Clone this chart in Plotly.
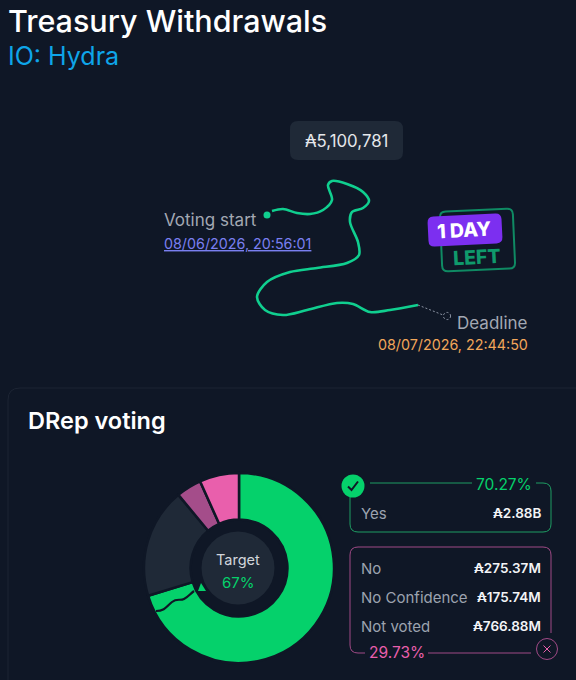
import math
import plotly.graph_objects as go

BG = "#0f1726"
FONT = "Inter, 'DejaVu Sans', sans-serif"
GREEN = "#05d16b"
PINK = "#e95fac"

# vote values in millions, clockwise from the top
vote_labels = ["Yes", "Not voted", "No Confidence", "No"]
vote_values = [2880, 766.88, 175.74, 275.37]
vote_colors = [GREEN, "#1f2937", "#a44d8a", PINK]

pink_rows = ["No", "No Confidence", "Not voted"]
pink_amounts = ["₳275.37M", "₳175.74M", "₳766.88M"]
pink_row_y = [568, 597, 626]

# decorative timeline squiggle
path_x = [272, 283, 297, 310, 323, 332, 328, 332, 347, 363, 369, 363, 352, 350, 358, 359, 347, 317, 290, 267, 257, 265, 283, 307, 337, 353, 370, 390, 418]
path_y = [211, 209, 213, 214, 210, 200, 185, 181, 184, 192, 201, 208, 212, 222, 242, 255, 263, 268, 272, 282, 297, 310, 315, 310, 303, 304, 312, 310, 305]
dash_x = [418, 443]
dash_y = [305, 315]


def rounded_box(x0, y0, x1, y1, r, angle=0):
    # rounded rectangle as an svg path, rotated around its centre
    cx, cy = (x0 + x1) / 2, (y0 + y1) / 2
    a = math.radians(angle)

    def p(x, y):
        dx, dy = x - cx, y - cy
        return f"{cx + dx * math.cos(a) - dy * math.sin(a):.1f},{cy + dx * math.sin(a) + dy * math.cos(a):.1f}"

    return (f"M{p(x0 + r, y0)} L{p(x1 - r, y0)} Q{p(x1, y0)} {p(x1, y0 + r)} "
            f"L{p(x1, y1 - r)} Q{p(x1, y1)} {p(x1 - r, y1)} L{p(x0 + r, y1)} "
            f"Q{p(x0, y1)} {p(x0, y1 - r)} L{p(x0, y0 + r)} Q{p(x0, y0)} {p(x0 + r, y0)} Z")


fig = go.Figure()

fig.add_trace(go.Scatter(x=path_x, y=path_y, mode="lines", hoverinfo="skip",
                         line=dict(color="#10cf8f", width=2.6, shape="spline", smoothing=0.9)))
fig.add_trace(go.Scatter(x=dash_x, y=dash_y, mode="lines", hoverinfo="skip",
                         line=dict(color="#8b93a3", width=1, dash="2px,2px")))
fig.add_trace(go.Scatter(x=[267], y=[215], mode="markers", hoverinfo="skip",
                         marker=dict(color="#10cf8f", size=7)))

fig.add_trace(go.Pie(labels=vote_labels, values=vote_values, sort=False, direction="clockwise",
                     rotation=0, hole=0.51, textinfo="none", hoverinfo="label+value",
                     marker=dict(colors=vote_colors, line=dict(color=BG, width=2.5)),
                     domain=dict(x=[144 / 576, 334 / 576], y=[1 - 663 / 680, 1 - 473 / 680])))

shapes = []


def line_shape(path, color, width=1, fill=None, dash=None):
    shapes.append(dict(type="path", path=path, xref="x", yref="y", layer="above",
                       line=dict(color=color, width=width, dash=dash),
                       fillcolor=fill if fill else "rgba(0,0,0,0)"))


def circle(cx, cy, r, color, width=1, fill=None, dash=None):
    shapes.append(dict(type="circle", xref="x", yref="y", layer="above",
                       x0=cx - r, x1=cx + r, y0=cy - r, y1=cy + r,
                       line=dict(color=color, width=width, dash=dash),
                       fillcolor=fill if fill else "rgba(0,0,0,0)"))


# card outline
line_shape("M8,690 L8,400 Q8,388 20,388 L590,388", "#1c2433", 1)
# amount pill
line_shape(rounded_box(290, 121, 403, 160, 8), "#1f2937", 0, "#1f2937")
# deadline ring
circle(447, 316, 3.6, "#8b93a3", 1, dash="2px,2px")

# badge
line_shape(rounded_box(441, 210, 514, 270, 6, -2.5), "#0f8a63", 2)
line_shape(rounded_box(428, 215, 502, 245, 6, -3), "#7c2ff0", 0, "#7c2ff0")

# centre of the donut and target mark
circle(238, 568, 36.5, "#1f2937", 0, "#1f2937")
line_shape("M198,591 L206,591 L201,583 Z", GREEN, 0, GREEN)
line_shape("M156,611 C165,611 167,606 172,602 C177,598 180,601 184,599 C188,597 190,594 194,591", BG, 2.2)

# yes box
line_shape("M370,483 L472,483", "#1f9d63", 1)
line_shape("M536,483 L543,483 Q551,483 551,491 L551,524 Q551,532 543,532 L358,532 Q350,532 350,524 L350,497", "#1f9d63", 1)
circle(353, 486, 11.5, GREEN, 0, GREEN)
line_shape("M348,486.5 L351.5,490 L358,481.5", "#0f1726", 2)

# no box
line_shape("M551,633 L551,555 Q551,547 543,547 L358,547 Q350,547 350,555 L350,645 Q350,653 358,653 L365,653", "#a04a86", 1)
line_shape("M428,653 L531,653", "#a04a86", 1)
circle(547, 649, 10.5, "#a04a86", 1)
line_shape("M543.5,645.5 L550.5,652.5 M550.5,645.5 L543.5,652.5", PINK, 1)

annotations = []


def label(x, y, text, size, color, anchor="left", weight=400, angle=0):
    annotations.append(dict(x=x, y=y, xref="x", yref="y", text=text, showarrow=False, xanchor=anchor,
                            yanchor="middle", textangle=angle, borderpad=0, borderwidth=0,
                            font=dict(family=FONT, size=size, color=color, weight=weight)))


label(8, 20, "Treasury Withdrawals", 30.5, "#ffffff", weight=500)
label(8, 56, "IO: Hydra", 25, "#0ea5e9")
label(346, 141, "₳5,100,781", 16.8, "#e5e7eb", "center")
label(164, 220, "Voting start", 17, "#a3a8b3")
label(164, 243, "<u>08/06/2026, 20:56:01</u>", 14.3, "#7a7ff0")
label(528, 323, "Deadline", 17, "#a3a8b3", "right")
label(528, 344, "08/07/2026, 22:44:50", 14.3, "#f2a65a", "right")
label(464, 230, "1 DAY", 19.5, "#ffffff", "center", 800, -3)
label(477, 257, "LEFT", 19.5, "#0f9a6c", "center", 800, -3)
label(28, 420, "DRep voting", 23.5, "#ffffff", weight=600)
label(238, 560, "Target", 14.5, "#d1d5db", "center")
label(238, 582, "67%", 15, GREEN, "center")
label(504, 484, "70.27%", 15.5, GREEN, "center")
label(361, 513, "Yes", 15, "#9ca3af")
label(541, 513, "₳2.88B", 13.5, "#f3f4f6", "right", 600)
for row, amount, y in zip(pink_rows, pink_amounts, pink_row_y):
    label(361, y, row, 15, "#9ca3af")
    label(541, y, amount, 13.5, "#f3f4f6", "right", 600)
label(396.5, 652, "29.73%", 15.5, PINK, "center")

fig.update_layout(width=576, height=680, margin=dict(l=0, r=0, t=0, b=0), showlegend=False,
                  paper_bgcolor=BG, plot_bgcolor=BG, shapes=shapes, annotations=annotations,
                  xaxis=dict(range=[0, 576], visible=False, fixedrange=True),
                  yaxis=dict(range=[680, 0], visible=False, fixedrange=True))

fig.write_html("out.html", config={"displayModeBar": False},
               post_script=f"document.body.style.margin='0';document.body.style.background='{BG}';")
